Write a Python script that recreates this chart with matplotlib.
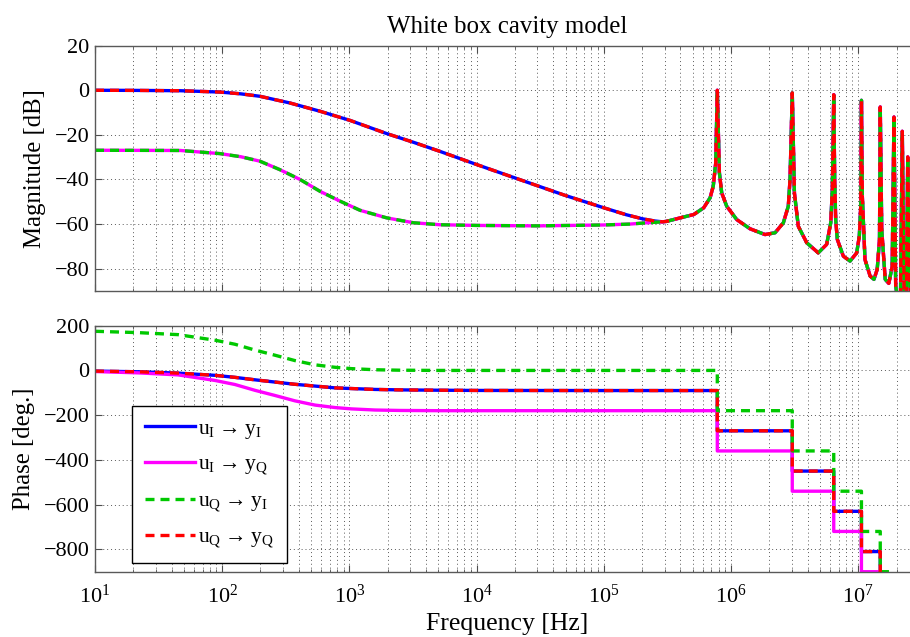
import matplotlib
matplotlib.use('Agg')
import matplotlib.pyplot as plt
from matplotlib.ticker import LogLocator, NullFormatter, MultipleLocator

# magnitude, low frequency part (Hz, dB)
mag_freq_a = [10, 20, 47, 96, 140, 198, 341, 587, 1.01e3, 1.96e3, 3.18e3, 5.15e3, 1e4, 2e4, 5e4,
              1e5, 1.5e5, 2e5, 2.5e5, 2.9e5]
mag_a = [0, -0.05, -0.2, -0.8, -1.6, -2.7, -5.7, -9.4, -13.5, -19.4, -23.3, -27.4, -33.3, -39.3, -47.2,
         -52.7, -55.8, -57.6, -58.6, -59.0]
mag_freq_b = [10, 25, 47, 96, 140, 198, 284, 409, 587, 843, 1.21e3, 1.96e3, 3.18e3, 5.15e3, 1e4,
              3e4, 1e5, 1.6e5, 2.2e5, 2.7e5]
mag_b = [-26.9, -26.95, -27.0, -28.4, -29.8, -31.8, -35.6, -40.0, -45.3, -49.7, -53.8, -57.2, -59.4, -60.3, -60.6,
         -60.8, -60.4, -60.0, -59.4, -59.1]

# magnitude, resonance part shared by all four transfer functions
res_freq = [3.1e5, 4.0e5, 5.1e5, 6.1e5, 6.85e5, 7.25e5, 7.58e5, 7.8e5, 8.1e5, 8.45e5,
            9.25e5, 1.11e6, 1.41e6, 1.85e6, 2.22e6, 2.58e6, 2.82e6, 2.91e6, 3.03e6, 3.15e6,
            3.38e6, 3.94e6, 4.85e6, 5.65e6, 6.08e6, 6.26e6, 6.42e6, 6.53e6, 6.65e6, 6.85e6,
            7.64e6, 8.63e6, 9.73e6, 1.02e7, 1.047e7, 1.06e7, 1.077e7, 1.13e7, 1.24e7, 1.33e7,
            1.41e7, 1.47e7, 1.49e7, 1.53e7, 1.63e7, 1.74e7, 1.85e7, 1.91e7, 1.97e7, 2.06e7,
            2.15e7, 2.22e7, 2.30e7, 2.39e7, 2.45e7, 2.51e7, 2.6e7]
res_mag = [-58.8, -57.2, -55.7, -52.7, -48.2, -43.0, -32.6, 0.0, -37.0, -46.0,
           -52.0, -58.0, -62.1, -64.7, -63.9, -59.4, -52.0, -40.0, -1.2, -46.0,
           -61.0, -68.4, -72.9, -69.1, -59.4, -44.5, -2.0, -40.0, -58.0, -66.9,
           -74.4, -76.6, -72.9, -65.4, -52.0, -4.5, -47.5, -75.9, -83.3, -84.8,
           -80.3, -66.9, -7.5, -62.4, -84.8, -86.6, -78.9, -12.0, -87.8, -95.0,
           -92.0, -18.4, -95.0, -95.0, -29.9, -80.0, -95.0]

# phase, low frequency part (Hz, deg)
ph_freq = [10, 22, 45, 88, 126, 181, 260, 373, 537, 771, 1.04e3, 1.59e3, 2.5e3, 5e3, 1e4, 1e5]
ph_uI_yI = [-3, -6, -12, -22, -31, -42, -52, -62, -70, -78, -81, -85, -87, -88.5, -89.5, -90]
ph_uI_yQ = [-5, -11, -20, -45, -63, -89, -112, -136, -155, -166, -172, -177, -179, -180, -180, -180]
ph_uQ_yI = [175, 169, 160, 135, 117, 91, 68, 44, 25, 14, 8, 3, 1, 0, 0, 0]

# phase jumps at the cavity modes and the levels between them
step_freq = [7.8e5, 3.03e6, 6.42e6, 1.06e7, 1.49e7, 1.91e7, 2.22e7, 2.45e7]
lev_uI_yI = [-90, -270, -450, -630, -810, -990, -1170, -1350, -1530]
lev_uI_yQ = [-180, -360, -540, -720, -900, -1080, -1260, -1440, -1620]
lev_uQ_yI = [0, -180, -360, -540, -720, -900, -1080, -1260, -1440]

sp = '\u2009'
labels = ['u$_\\mathrm{I}$' + sp + '→' + sp + 'y$_\\mathrm{I}$',
          'u$_\\mathrm{I}$' + sp + '→' + sp + 'y$_\\mathrm{Q}$',
          'u$_\\mathrm{Q}$' + sp + '→' + sp + 'y$_\\mathrm{I}$',
          'u$_\\mathrm{Q}$' + sp + '→' + sp + 'y$_\\mathrm{Q}$']

f_max = 3.06e7

plt.rcParams['font.family'] = ['Liberation Serif', 'DejaVu Serif']
plt.rcParams['mathtext.fontset'] = 'custom'
plt.rcParams['mathtext.rm'] = 'Liberation Serif'
plt.rcParams['mathtext.it'] = 'Liberation Serif:italic'


def phase_path(f_low, p_low, levels):
    f = list(f_low)
    p = list(p_low)
    for sf, a, b in zip(step_freq, levels[:-1], levels[1:]):
        f += [sf, sf]
        p += [a, b]
    f.append(f_max)
    p.append(levels[-1])
    return f, p


styles = [dict(color='#0000ff', ls='-'),
          dict(color='#ff00ff', ls='-'),
          dict(color='#00c800', ls=(0, (2.7, 1.8))),
          dict(color='#ff0000', ls=(0, (2.7, 1.8)))]
lw = 2.4

fig = plt.figure(figsize=(9.1, 6.37), dpi=100)
# the right edge of the axes runs slightly past the figure, as in the reference
ax1 = fig.add_axes([0.1044, 0.5432, 0.9066, 0.3851])
ax2 = fig.add_axes([0.1044, 0.1025, 0.9066, 0.3862])

fa = mag_freq_a + res_freq
ma = mag_a + res_mag
fb = mag_freq_b + res_freq
mb = mag_b + res_mag
for (f, m), st in zip([(fa, ma), (fb, mb), (fb, mb), (fa, ma)], styles):
    ax1.semilogx(f, m, lw=lw, **st)

phases = [phase_path(ph_freq, ph_uI_yI, lev_uI_yI),
          phase_path(ph_freq, ph_uI_yQ, lev_uI_yQ),
          phase_path(ph_freq, ph_uQ_yI, lev_uQ_yI),
          phase_path(ph_freq, ph_uI_yI, lev_uI_yI)]
for (f, p), st, lab in zip(phases, styles, labels):
    ax2.semilogx(f, p, lw=lw, label=lab, **st)

ax1.set_ylim(-90, 20)
ax1.yaxis.set_major_locator(MultipleLocator(20))
ax2.set_ylim(-900, 200)
ax2.yaxis.set_major_locator(MultipleLocator(200))

for ax in (ax1, ax2):
    ax.set_xlim(10, f_max)
    ax.xaxis.set_major_locator(LogLocator(base=10, numticks=20))
    ax.xaxis.set_minor_locator(LogLocator(base=10, subs=range(2, 10), numticks=20))
    ax.xaxis.set_minor_formatter(NullFormatter())
    ax.grid(True, which='major', ls=(0, (1, 3)), lw=0.7, color='0.35')
    ax.grid(True, which='minor', axis='x', ls=(0, (1, 3)), lw=0.7, color='0.35')
    ax.tick_params(which='both', direction='in', top=True, right=True,
                   labelsize=16, color='0.3')
    ax.tick_params(which='major', length=5)
    ax.tick_params(which='minor', length=2.5)
    ax.tick_params(axis='x', pad=9)
    ax.tick_params(axis='y', pad=4)
    for s in ax.spines.values():
        s.set_color('0.35')
        s.set_linewidth(1.0)

ax1.tick_params(axis='x', labelbottom=False)
ax1.set_title('White box cavity model', fontsize=17.9, pad=9)
ax1.set_ylabel('Magnitude [dB]', fontsize=17.8, labelpad=6)
ax2.set_ylabel('Phase [deg.]', fontsize=17.8, labelpad=6)
ax2.set_xlabel('Frequency [Hz]', fontsize=18.5, labelpad=4)

leg = ax2.legend(loc='upper left', bbox_to_anchor=(0.0454, 0.675), borderaxespad=0,
                 fontsize=15.5, fancybox=False, edgecolor='black', framealpha=1,
                 handlelength=2.3, labelspacing=0.65, handletextpad=0.15, borderpad=0.6)
leg.get_frame().set_linewidth(1.0)

fig.savefig('out.png', dpi=100)
